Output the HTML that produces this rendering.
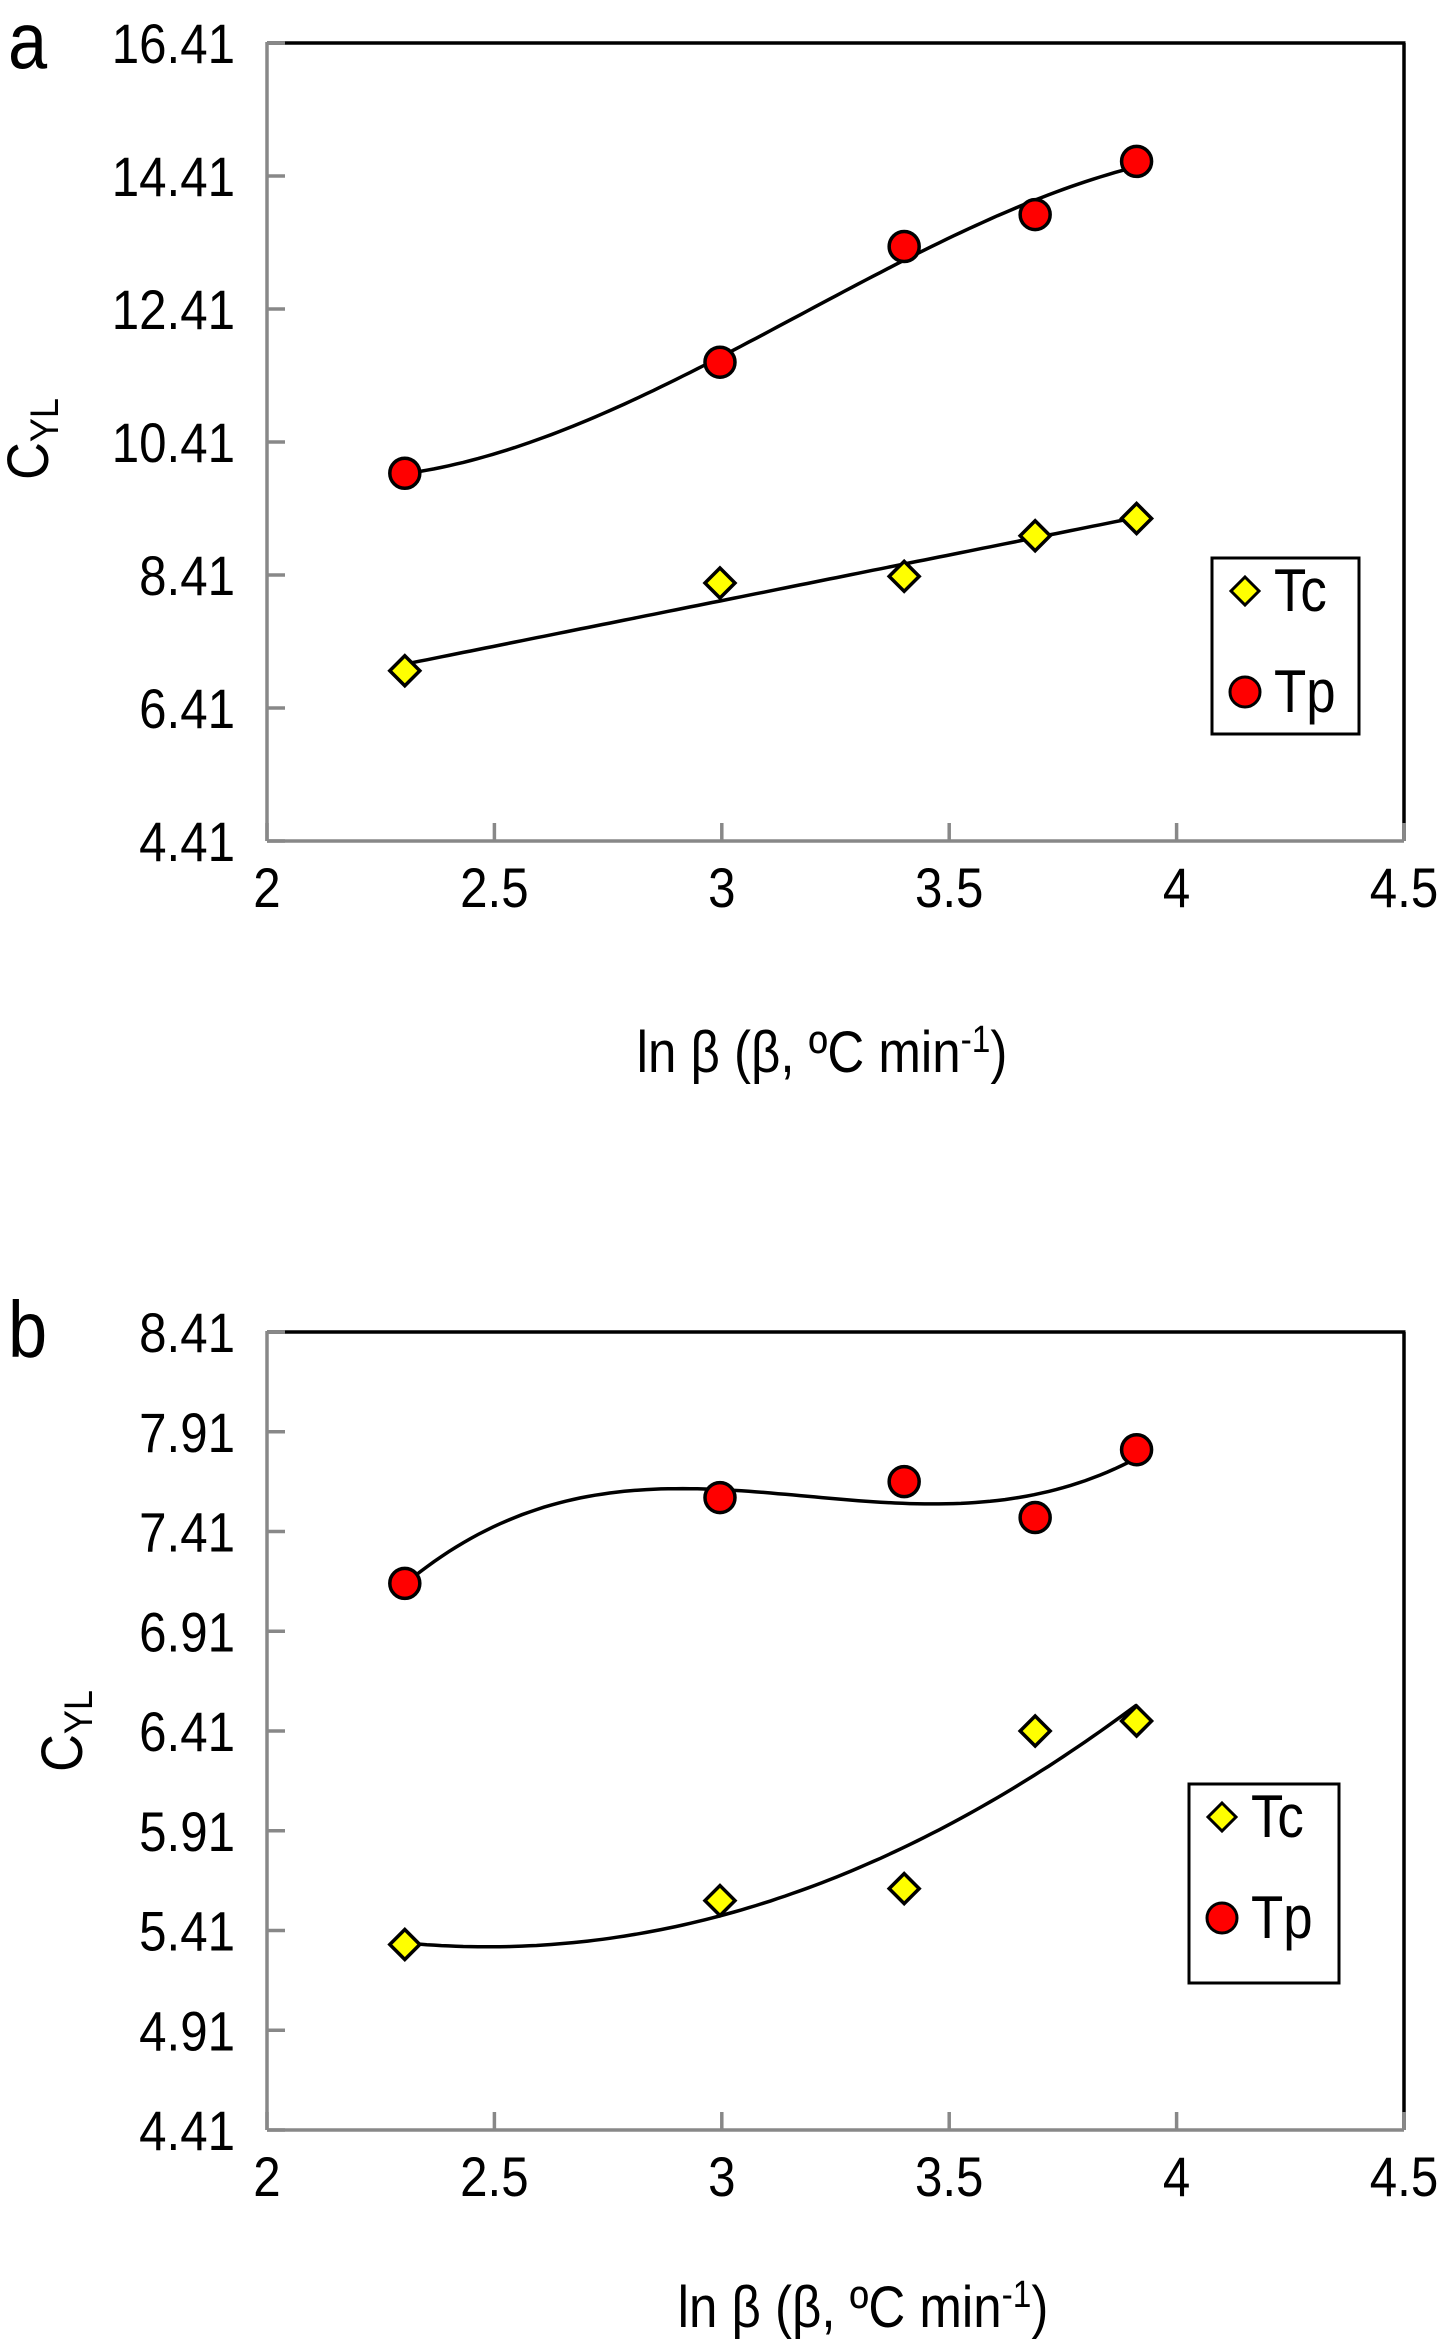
<!DOCTYPE html>
<html><head><meta charset="utf-8"><style>
html,body{margin:0;padding:0;background:#fff;}
svg{display:block;font-family:"Liberation Sans",sans-serif;}
</style></head><body>
<svg id="fig" width="1446" height="2340" viewBox="0 0 1446 2340">
</svg>
<script>
const xCats = [2.303, 2.996, 3.401, 3.689, 3.912];
const xTicks = [2, 2.5, 3, 3.5, 4, 4.5];
const xTickLabels = ["2", "2.5", "3", "3.5", "4", "4.5"];
const aTc = [6.97, 8.29, 8.39, 9.00, 9.26];
const aTp = [9.94, 11.61, 13.35, 13.83, 14.63];
const aYTicks = [4.41, 6.41, 8.41, 10.41, 12.41, 14.41, 16.41];
const aYTickLabels = ["4.41", "6.41", "8.41", "10.41", "12.41", "14.41", "16.41"];
const bTc = [5.34, 5.56, 5.62, 6.41, 6.46];
const bTp = [7.15, 7.58, 7.66, 7.48, 7.82];
const bYTicks = [4.41, 4.91, 5.41, 5.91, 6.41, 6.91, 7.41, 7.91, 8.41];
const bYTickLabels = ["4.41", "4.91", "5.41", "5.91", "6.41", "6.91", "7.41", "7.91", "8.41"];

const NS = "http://www.w3.org/2000/svg";
const svg = document.getElementById('fig');
const SX = 0.88;
function mk(tag, attrs, parent) {
  const e = document.createElementNS(NS, tag);
  for (const k in attrs) e.setAttribute(k, attrs[k]);
  (parent || svg).appendChild(e);
  return e;
}
function txt(x, y, size, anchor, parent, extra) {
  return mk('text', Object.assign({x: 0, y: 0, transform: `translate(${x},${y}) scale(${SX},1)${extra || ''}`, 'font-size': size, 'text-anchor': anchor}, {}), parent);
}
function polyfit(xs, ys, deg) {
  const n = deg + 1;
  const A = [], b = [];
  for (let i = 0; i < n; i++) { A.push(new Array(n).fill(0)); b.push(0); }
  for (let k = 0; k < xs.length; k++) {
    for (let i = 0; i < n; i++) {
      b[i] += ys[k] * Math.pow(xs[k], i);
      for (let j = 0; j < n; j++) A[i][j] += Math.pow(xs[k], i + j);
    }
  }
  for (let i = 0; i < n; i++) {
    let p = i;
    for (let r = i + 1; r < n; r++) if (Math.abs(A[r][i]) > Math.abs(A[p][i])) p = r;
    [A[i], A[p]] = [A[p], A[i]]; [b[i], b[p]] = [b[p], b[i]];
    for (let r = i + 1; r < n; r++) {
      const f = A[r][i] / A[i][i];
      for (let c = i; c < n; c++) A[r][c] -= f * A[i][c];
      b[r] -= f * b[i];
    }
  }
  const c = new Array(n).fill(0);
  for (let i = n - 1; i >= 0; i--) {
    let s = b[i];
    for (let j = i + 1; j < n; j++) s -= A[i][j] * c[j];
    c[i] = s / A[i][i];
  }
  return x => c.reduce((acc, ci, i) => acc + ci * Math.pow(x, i), 0);
}

function panel(cfg) {
  const g = mk('g', {});
  
  
  const L = 267, R = 1404, T = cfg.top, B = cfg.bottom;
  const xs = v => L + (v - 2) / 2.5 * (R - L);
  const ys = v => B - (v - cfg.ymin) / (cfg.ymax - cfg.ymin) * (B - T);
  const lbl = txt(8, cfg.labelY, 80, 'start', g);
  lbl.textContent = cfg.letter;
  
  
  const top = mk('line', {x1: L, y1: T, x2: R + 1.5, y2: T, stroke: '#000', 'stroke-width': 3.5}, g);
  
  
  const right = mk('line', {x1: R, y1: T, x2: R, y2: B, stroke: '#000', 'stroke-width': 3.5}, g);
  
  
  const yax = mk('line', {x1: L, y1: T - 1, x2: L, y2: B, stroke: '#888', 'stroke-width': 3.5}, g);
  
  
  const xax = mk('line', {x1: L, y1: B, x2: R, y2: B, stroke: '#888', 'stroke-width': 3.5}, g);
  
  
  cfg.yTicks.forEach((v, i) => {
    const y = ys(v);
    const t = mk('line', {x1: L, y1: y, x2: L + 18, y2: y, stroke: '#888', 'stroke-width': 3.5}, g);
    
    
    const tx = txt(235, y + 20, 56, 'end', g);
    tx.textContent = cfg.yLabels[i];
    
    
  });
  xTicks.forEach((v, i) => {
    const x = xs(v);
    const t = mk('line', {x1: x, y1: B, x2: x, y2: B - 18, stroke: '#888', 'stroke-width': 3.5}, g);
    
    
    const tx = txt(x, B + 66, 56, 'middle', g);
    tx.textContent = xTickLabels[i];
    
    
  });
  const xt = txt(cfg.xTitleX, cfg.xTitleY, 58, 'middle', g);
  xt.innerHTML = 'ln β (β, ºC min<tspan dy="-20" font-size="38">-1</tspan><tspan dy="20">)</tspan>';
  
  
  const yt = mk('text', {transform: `translate(${cfg.yTitleX},${cfg.yTitleY}) rotate(-90) scale(0.9,1)`, 'font-size': 58, 'text-anchor': 'middle'}, g);
  yt.innerHTML = 'C<tspan dy="10" font-size="40">YL</tspan>';
  
  
  [[cfg.tc, cfg.tcDeg, 'tc-trendline'], [cfg.tp, cfg.tpDeg, 'tp-trendline']].forEach(([ys_, deg, nm]) => {
    const f = polyfit(xCats, ys_, deg);
    let d = '';
    const x0 = xCats[0], x1 = xCats[xCats.length - 1];
    for (let i = 0; i <= 100; i++) {
      const xv = x0 + (x1 - x0) * i / 100;
      d += (i ? 'L' : 'M') + xs(xv).toFixed(1) + ',' + ys(f(xv)).toFixed(1);
    }
    const p = mk('path', {d: d, fill: 'none', stroke: '#000', 'stroke-width': 3.5}, g);
    
    
  });
  cfg.tc.forEach((v, i) => {
    const cx = xs(xCats[i]), cy = ys(v), h = 15;
    const m = mk('polygon', {points: `${cx},${cy - h} ${cx + h},${cy} ${cx},${cy + h} ${cx - h},${cy}`, fill: '#ffff00', stroke: '#000', 'stroke-width': 3.5}, g);
    
    
  });
  cfg.tp.forEach((v, i) => {
    const m = mk('circle', {cx: xs(xCats[i]), cy: ys(v), r: 15, fill: '#ff0000', stroke: '#000', 'stroke-width': 3.5}, g);
    
    
  });
  const lg = mk('g', {}, g);
  
  
  const lx = cfg.legX, ly = cfg.legY;
  mk('rect', {x: lx, y: ly, width: cfg.legW, height: cfg.legH, fill: '#fff', stroke: '#000', 'stroke-width': 3}, lg);
  const e1 = mk('g', {}, lg);
  
  
  const c1x = lx + 33, c1y = ly + 33, h = 14;
  mk('polygon', {points: `${c1x},${c1y - h} ${c1x + h},${c1y} ${c1x},${c1y + h} ${c1x - h},${c1y}`, fill: '#ffff00', stroke: '#000', 'stroke-width': 3}, e1);
  const t1 = txt(lx + 62, c1y + 20, 60, 'start', e1);
  t1.textContent = 'Tc';
  const e2 = mk('g', {}, lg);
  
  
  const c2y = ly + 134;
  mk('circle', {cx: c1x, cy: c2y, r: 15, fill: '#ff0000', stroke: '#000', 'stroke-width': 3}, e2);
  const t2 = txt(lx + 62, c2y + 20, 60, 'start', e2);
  t2.textContent = 'Tp';
}

panel({name: 'chart-a', letter: 'a', labelY: 68, top: 43, bottom: 841, ymin: 4.41, ymax: 16.41,
  yTicks: aYTicks, yLabels: aYTickLabels, tc: aTc, tp: aTp, tcDeg: 1, tpDeg: 3,
  xTitleX: 822, xTitleY: 1072, yTitleX: 48, yTitleY: 439,
  legX: 1212, legY: 558, legW: 147, legH: 176});
panel({name: 'chart-b', letter: 'b', labelY: 1357, top: 1332, bottom: 2130, ymin: 4.41, ymax: 8.41,
  yTicks: bYTicks, yLabels: bYTickLabels, tc: bTc, tp: bTp, tcDeg: 2, tpDeg: 3,
  xTitleX: 863, xTitleY: 2327, yTitleX: 82, yTitleY: 1731,
  legX: 1189, legY: 1784, legW: 150, legH: 199});
</script>
</body></html>
